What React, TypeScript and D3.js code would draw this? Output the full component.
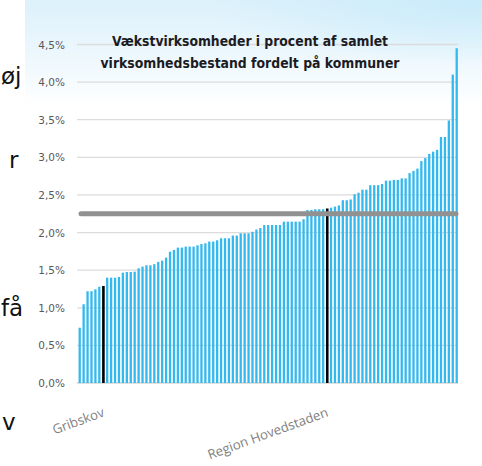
import React from "react";
import * as d3 from "d3";

// Share of growth companies per municipality, sorted ascending (percent)
const values: number[] = [
  0.735, 1.047, 1.22, 1.22, 1.245, 1.28, 1.29, 1.4, 1.4, 1.4,
  1.41, 1.467, 1.475, 1.475, 1.48, 1.525, 1.547, 1.565, 1.565, 1.58,
  1.61, 1.627, 1.667, 1.746, 1.769, 1.8, 1.8, 1.813, 1.813, 1.813,
  1.83, 1.848, 1.857, 1.88, 1.88, 1.897, 1.924, 1.924, 1.924, 1.96,
  1.96, 1.99, 1.99, 1.99, 2.01, 2.04, 2.06, 2.1, 2.1, 2.1,
  2.1, 2.1, 2.145, 2.145, 2.145, 2.145, 2.145, 2.177, 2.3, 2.3,
  2.31, 2.31, 2.31, 2.32, 2.33, 2.345, 2.36, 2.43, 2.43, 2.44,
  2.51, 2.53, 2.57, 2.57, 2.63, 2.63, 2.63, 2.646, 2.69, 2.69,
  2.7, 2.7, 2.72, 2.72, 2.79, 2.82, 2.85, 2.95, 2.99, 3.045,
  3.075, 3.1, 3.27, 3.27, 3.49, 4.1, 4.45,
];
const highlightNames: string[] = ["Gribskov", "Region Hovedstaden"];
const highlightIndex: number[] = [6, 63];
const averageValue = 2.25;
const yTicks: number[] = [0, 0.5, 1, 1.5, 2, 2.5, 3, 3.5, 4, 4.5];
const titleLines: string[] = [
  "Vækstvirksomheder i procent af samlet",
  "virksomhedsbestand fordelt på kommuner",
];
const sideFragments: string[] = ["øj", "r", "få", "v"];

const W = 482;
const H = 466;

export default function App() {
  const idx = values.map((_, i) => i);
  const x = d3.scalePoint<number>().domain(idx).range([79.7, 456.7]);
  const y = d3.scaleLinear().domain([0, 4.5]).range([383, 44.5]);
  const fmt = (v: number) => v.toFixed(1).replace(".", ",") + "%";
  const barW = 2.3;
  const sideY = [84, 168, 316, 430];
  const sideX = [1, 9, 1, 2];

  return (
    <svg
      width={W}
      height={H}
      style={{ position: "absolute", left: 0, top: 0, background: "#fff" }}
    >
      <defs>
        <linearGradient id="wash" x1="0" y1="0" x2="0" y2="1">
          <stop offset="0" stopColor="#dcf1fb" />
          <stop offset="0.55" stopColor="#eef8fd" />
          <stop offset="1" stopColor="#ffffff" />
        </linearGradient>
        <radialGradient id="corner" cx="1" cy="0" r="0.6">
          <stop offset="0" stopColor="#c9ebfa" />
          <stop offset="1" stopColor="#c9ebfa" stopOpacity="0" />
        </radialGradient>
      </defs>
      <rect x={25} y={0} width={W - 25} height={108} fill="url(#wash)" />
      <rect x={25} y={0} width={W - 25} height={108} fill="url(#corner)" />

      {/* side text fragments */}
      {sideFragments.map((t, i) => (
        <text
          key={t}
          x={sideX[i]}
          y={sideY[i]}
          fontFamily="'DejaVu Sans', Verdana, sans-serif"
          fontSize={23}
          fill="#111"
        >
          {t}
        </text>
      ))}

      {/* gridlines */}
      {yTicks.map((t) => (
        <line
          key={t}
          x1={77}
          x2={458}
          y1={y(t)}
          y2={y(t)}
          stroke={t === 0 ? "#d4d4d4" : "#dcdcdc"}
          strokeWidth={1.3}
        />
      ))}
      {yTicks.map((t) => (
        <text
          key={"l" + t}
          x={65}
          y={y(t) + 4}
          textAnchor="end"
          fontFamily="'DejaVu Sans', Verdana, sans-serif"
          fontSize={10.5}
          fill="#595959"
        >
          {fmt(t)}
        </text>
      ))}

      {/* bars */}
      {values.map((v, i) => {
        const hl = highlightIndex.includes(i);
        return (
          <rect
            key={i}
            x={(x(i) as number) - barW / 2}
            y={y(v)}
            width={hl ? 2.6 : barW}
            height={y(0) - y(v)}
            fill={hl ? "#000" : "#33b9ee"}
          />
        );
      })}

      {/* average line */}
      <line
        x1={81}
        x2={456}
        y1={y(averageValue)}
        y2={y(averageValue)}
        stroke="#919191"
        strokeWidth={5}
        strokeLinecap="round"
      />

      {/* title */}
      {titleLines.map((t, i) => (
        <text
          key={t}
          x={250}
          y={46 + i * 22}
          textAnchor="middle"
          fontFamily="'Liberation Sans Narrow', 'DejaVu Sans Condensed', 'Arial Narrow', sans-serif"
          fontWeight="bold"
          fontSize={14}
          fill="#1b1b24"
          textLength={i === 0 ? 276 : 299}
          lengthAdjust="spacingAndGlyphs"
        >
          {t}
        </text>
      ))}

      {/* highlighted category labels */}
      {highlightIndex.map((hi, k) => {
        const px = (x(hi) as number) + 2;
        const py = 416;
        return (
          <text
            key={hi}
            x={px}
            y={py}
            transform={`rotate(-20 ${px} ${py})`}
            textAnchor="end"
            fontFamily="'Open Sans', sans-serif"
            fontSize={13.2}
            fill="#7f7f7f"
          >
            {highlightNames[k]}
          </text>
        );
      })}
    </svg>
  );
}
